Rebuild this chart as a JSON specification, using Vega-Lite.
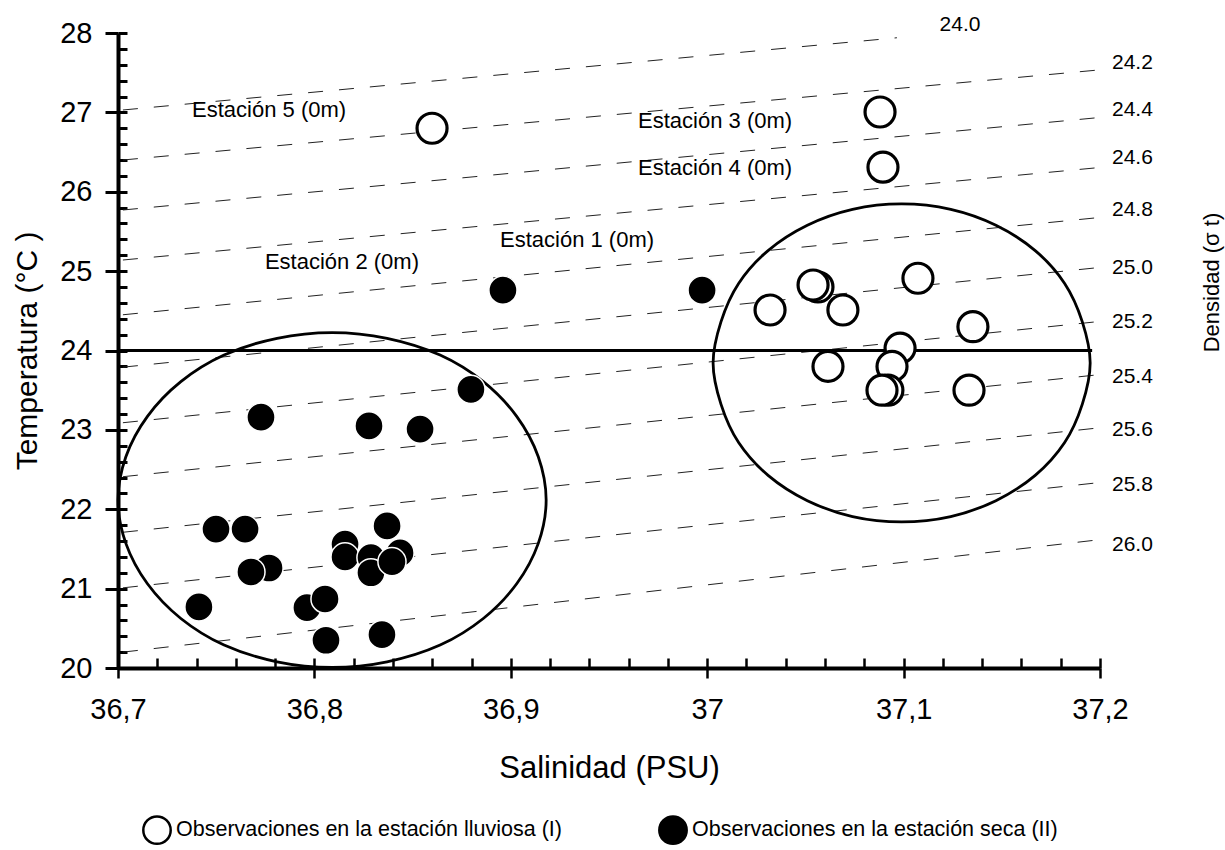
{
  "$schema": "https://vega.github.io/schema/vega-lite/v6.json",
  "width": 982,
  "height": 635,
  "autosize": {"type": "none"},
  "padding": {"left": 118, "top": 33, "right": 125, "bottom": 182},
  "background": "white",
  "config": {"font": "Liberation Sans", "view": {"stroke": null}, "axis": {"grid": false}},
  "datasets": {
    "iso": [
      {"sigma": "24.0", "S": 36.7025, "T": 27.03}, {"sigma": "24.0", "S": 37.0966, "T": 27.94},
      {"sigma": "24.2", "S": 36.7025, "T": 26.40}, {"sigma": "24.2", "S": 37.1975, "T": 27.53},
      {"sigma": "24.4", "S": 36.7025, "T": 25.77}, {"sigma": "24.4", "S": 37.1975, "T": 26.93},
      {"sigma": "24.6", "S": 36.7025, "T": 25.14}, {"sigma": "24.6", "S": 37.1975, "T": 26.30},
      {"sigma": "24.8", "S": 36.7025, "T": 24.45}, {"sigma": "24.8", "S": 37.1975, "T": 25.67},
      {"sigma": "25.0", "S": 36.7025, "T": 23.79}, {"sigma": "25.0", "S": 37.1975, "T": 25.04},
      {"sigma": "25.2", "S": 36.7025, "T": 23.09}, {"sigma": "25.2", "S": 37.1975, "T": 24.36},
      {"sigma": "25.4", "S": 36.7025, "T": 22.41}, {"sigma": "25.4", "S": 37.1975, "T": 23.69},
      {"sigma": "25.6", "S": 36.7025, "T": 21.71}, {"sigma": "25.6", "S": 37.1975, "T": 23.02},
      {"sigma": "25.8", "S": 36.7025, "T": 21.01}, {"sigma": "25.8", "S": 37.1975, "T": 22.33},
      {"sigma": "26.0", "S": 36.7025, "T": 20.20}, {"sigma": "26.0", "S": 37.1975, "T": 21.61}
    ],
    "isoLabels": [
      {"label": "24.0", "S": 37.1183, "T": 28.10},
      {"label": "24.2", "S": 37.2061, "T": 27.622},
      {"label": "24.4", "S": 37.2061, "T": 27.03},
      {"label": "24.6", "S": 37.2061, "T": 26.425},
      {"label": "24.8", "S": 37.2061, "T": 25.77},
      {"label": "25.0", "S": 37.2061, "T": 25.04},
      {"label": "25.2", "S": 37.2061, "T": 24.36},
      {"label": "25.4", "S": 37.2061, "T": 23.666},
      {"label": "25.6", "S": 37.2061, "T": 22.998},
      {"label": "25.8", "S": 37.2061, "T": 22.306},
      {"label": "26.0", "S": 37.2061, "T": 21.55}
    ],
    "ref": [{"S": 36.7, "S2": 37.196, "T": 24}],
    "ellipses": [
      {"id": "I", "i": 0, "S": 37.195, "T": 23.843}, {"id": "I", "i": 1, "S": 37.191, "T": 24.361},
      {"id": "I", "i": 2, "S": 37.182, "T": 24.845}, {"id": "I", "i": 3, "S": 37.167, "T": 25.259},
      {"id": "I", "i": 4, "S": 37.147, "T": 25.578}, {"id": "I", "i": 5, "S": 37.124, "T": 25.778},
      {"id": "I", "i": 6, "S": 37.099, "T": 25.846}, {"id": "I", "i": 7, "S": 37.074, "T": 25.778},
      {"id": "I", "i": 8, "S": 37.051, "T": 25.578}, {"id": "I", "i": 9, "S": 37.031, "T": 25.259},
      {"id": "I", "i": 10, "S": 37.016, "T": 24.845}, {"id": "I", "i": 11, "S": 37.007, "T": 24.361},
      {"id": "I", "i": 12, "S": 37.003, "T": 23.843}, {"id": "I", "i": 13, "S": 37.007, "T": 23.325},
      {"id": "I", "i": 14, "S": 37.016, "T": 22.841}, {"id": "I", "i": 15, "S": 37.031, "T": 22.427},
      {"id": "I", "i": 16, "S": 37.051, "T": 22.108}, {"id": "I", "i": 17, "S": 37.074, "T": 21.908},
      {"id": "I", "i": 18, "S": 37.099, "T": 21.840}, {"id": "I", "i": 19, "S": 37.124, "T": 21.908},
      {"id": "I", "i": 20, "S": 37.147, "T": 22.108}, {"id": "I", "i": 21, "S": 37.167, "T": 22.427},
      {"id": "I", "i": 22, "S": 37.182, "T": 22.841}, {"id": "I", "i": 23, "S": 37.191, "T": 23.325},
      {"id": "II", "i": 0, "S": 36.918, "T": 22.116}, {"id": "II", "i": 1, "S": 36.914, "T": 22.662},
      {"id": "II", "i": 2, "S": 36.903, "T": 23.171}, {"id": "II", "i": 3, "S": 36.886, "T": 23.608},
      {"id": "II", "i": 4, "S": 36.864, "T": 23.943}, {"id": "II", "i": 5, "S": 36.837, "T": 24.154},
      {"id": "II", "i": 6, "S": 36.809, "T": 24.226}, {"id": "II", "i": 7, "S": 36.781, "T": 24.154},
      {"id": "II", "i": 8, "S": 36.754, "T": 23.943}, {"id": "II", "i": 9, "S": 36.732, "T": 23.608},
      {"id": "II", "i": 10, "S": 36.715, "T": 23.171}, {"id": "II", "i": 11, "S": 36.704, "T": 22.662},
      {"id": "II", "i": 12, "S": 36.700, "T": 22.116}, {"id": "II", "i": 13, "S": 36.704, "T": 21.570},
      {"id": "II", "i": 14, "S": 36.715, "T": 21.061}, {"id": "II", "i": 15, "S": 36.732, "T": 20.624},
      {"id": "II", "i": 16, "S": 36.754, "T": 20.289}, {"id": "II", "i": 17, "S": 36.781, "T": 20.078},
      {"id": "II", "i": 18, "S": 36.809, "T": 20.006}, {"id": "II", "i": 19, "S": 36.837, "T": 20.078},
      {"id": "II", "i": 20, "S": 36.864, "T": 20.289}, {"id": "II", "i": 21, "S": 36.886, "T": 20.624},
      {"id": "II", "i": 22, "S": 36.903, "T": 21.061}, {"id": "II", "i": 23, "S": 36.914, "T": 21.570}
    ],
    "stations": [
      {"texto": "Estación 5 (0m)", "S": 36.7377, "T": 27.03},
      {"texto": "Estación 3 (0m)", "S": 36.9648, "T": 26.891},
      {"texto": "Estación 4 (0m)", "S": 36.9648, "T": 26.299},
      {"texto": "Estación 1 (0m)", "S": 36.8945, "T": 25.392},
      {"texto": "Estación 2 (0m)", "S": 36.7748, "T": 25.115}
    ],
    "obs": [
      {"grupo": "lluviosa", "S": 36.8599, "T": 26.80},
      {"grupo": "lluviosa", "S": 37.088, "T": 27.005},
      {"grupo": "lluviosa", "S": 37.0895, "T": 26.31},
      {"grupo": "lluviosa", "S": 37.032, "T": 24.51},
      {"grupo": "lluviosa", "S": 37.0564, "T": 24.80},
      {"grupo": "lluviosa", "S": 37.0539, "T": 24.825},
      {"grupo": "lluviosa", "S": 37.0691, "T": 24.51},
      {"grupo": "lluviosa", "S": 37.1073, "T": 24.91},
      {"grupo": "lluviosa", "S": 37.1353, "T": 24.30},
      {"grupo": "lluviosa", "S": 37.0982, "T": 24.03},
      {"grupo": "lluviosa", "S": 37.0615, "T": 23.80},
      {"grupo": "lluviosa", "S": 37.0941, "T": 23.80},
      {"grupo": "lluviosa", "S": 37.092, "T": 23.50},
      {"grupo": "lluviosa", "S": 37.089, "T": 23.50},
      {"grupo": "lluviosa", "S": 37.1333, "T": 23.50},
      {"grupo": "seca", "S": 36.896, "T": 24.76},
      {"grupo": "seca", "S": 36.9974, "T": 24.76},
      {"grupo": "seca", "S": 36.7728, "T": 23.16},
      {"grupo": "seca", "S": 36.8278, "T": 23.05},
      {"grupo": "seca", "S": 36.8538, "T": 23.01},
      {"grupo": "seca", "S": 36.8797, "T": 23.51},
      {"grupo": "seca", "S": 36.7499, "T": 21.75},
      {"grupo": "seca", "S": 36.7647, "T": 21.75},
      {"grupo": "seca", "S": 36.7769, "T": 21.26},
      {"grupo": "seca", "S": 36.7677, "T": 21.21},
      {"grupo": "seca", "S": 36.7412, "T": 20.77},
      {"grupo": "seca", "S": 36.7962, "T": 20.76},
      {"grupo": "seca", "S": 36.8054, "T": 20.87},
      {"grupo": "seca", "S": 36.8059, "T": 20.35},
      {"grupo": "seca", "S": 36.8344, "T": 20.42},
      {"grupo": "seca", "S": 36.8156, "T": 21.56},
      {"grupo": "seca", "S": 36.8156, "T": 21.40},
      {"grupo": "seca", "S": 36.837, "T": 21.79},
      {"grupo": "seca", "S": 36.8436, "T": 21.45},
      {"grupo": "seca", "S": 36.8288, "T": 21.39},
      {"grupo": "seca", "S": 36.8288, "T": 21.20},
      {"grupo": "seca", "S": 36.8395, "T": 21.34}
    ]
  },
  "layer": [
    {
      "data": {"name": "iso"},
      "mark": {"type": "line", "strokeDash": [15, 16], "strokeWidth": 1, "color": "#222222"},
      "encoding": {
        "x": {
          "field": "S", "type": "quantitative",
          "scale": {"domain": [36.7, 37.2], "nice": false, "zero": false},
          "axis": {
            "orient": "bottom", "title": "Salinidad (PSU)",
            "values": [36.7, 36.8, 36.9, 37.0, 37.1, 37.2],
            "labelExpr": "replace(format(datum.value, '~g'), '.', ',')",
            "domainWidth": 4, "domainColor": "black", "tickColor": "black", "tickWidth": 2.5, "tickSize": 10,
            "labelFontSize": 29, "labelColor": "black", "labelPadding": 17, "labelFlush": false, "labelOverlap": false,
            "titleFontSize": 31, "titleFontWeight": "normal", "titleColor": "black",
            "titleBaseline": "alphabetic", "titleY": 109
          }
        },
        "y": {
          "field": "T", "type": "quantitative",
          "scale": {"domain": [20, 28], "nice": false, "zero": false},
          "axis": {
            "orient": "left", "title": "Temperatura (°C )",
            "values": [20, 21, 22, 23, 24, 25, 26, 27, 28],
            "domainWidth": 4, "domainColor": "black", "tickColor": "black", "tickWidth": 3, "tickSize": 13,
            "labelFontSize": 29, "labelColor": "black", "labelPadding": 13, "labelFlush": false, "labelOverlap": false,
            "titleFontSize": 30, "titleFontWeight": "normal", "titleColor": "black",
            "titleBaseline": "alphabetic", "titleAngle": 270, "titleX": -82, "titleY": 317.5
          }
        },
        "detail": {"field": "sigma", "type": "nominal"}
      }
    },
    {
      "data": {"name": "ref"},
      "mark": {"type": "rule", "strokeWidth": 3, "color": "black"},
      "encoding": {
        "x": {
          "field": "S", "type": "quantitative",
          "axis": {
            "orient": "bottom", "title": null, "domain": false, "labels": false,
            "tickSize": -10, "tickWidth": 2.5, "tickColor": "black",
            "values": [36.7, 36.72, 36.74, 36.76, 36.78, 36.8, 36.82, 36.84, 36.86, 36.88, 36.9, 36.92, 36.94, 36.96, 36.98, 37, 37.02, 37.04, 37.06, 37.08, 37.1, 37.12, 37.14, 37.16, 37.18, 37.2]
          }
        },
        "x2": {"field": "S2"},
        "y": {
          "field": "T", "type": "quantitative",
          "axis": {
            "orient": "left", "title": null, "domain": false, "labels": false,
            "tickSize": -9, "tickWidth": 3, "tickColor": "black",
            "values": [20, 20.2, 20.4, 20.6, 20.8, 21, 21.2, 21.4, 21.6, 21.8, 22, 22.2, 22.4, 22.6, 22.8, 23, 23.2, 23.4, 23.6, 23.8, 24, 24.2, 24.4, 24.6, 24.8, 25, 25.2, 25.4, 25.6, 25.8, 26, 26.2, 26.4, 26.6, 26.8, 27, 27.2, 27.4, 27.6, 27.8, 28]
          }
        }
      }
    },
    {
      "data": {"name": "ellipses"},
      "mark": {"type": "line", "interpolate": "cardinal-closed", "strokeWidth": 2.8, "color": "black"},
      "encoding": {
        "x": {"field": "S", "type": "quantitative", "axis": null},
        "y": {
          "field": "T", "type": "quantitative",
          "axis": {
            "orient": "right", "title": "Densidad (σ t)", "domain": false, "ticks": false, "labels": false,
            "titleFontSize": 22, "titleFontWeight": "normal", "titleColor": "black",
            "titleAngle": 270, "titleBaseline": "alphabetic", "titleX": 118, "titleY": 249
          }
        },
        "detail": {"field": "id", "type": "nominal"},
        "order": {"field": "i", "type": "quantitative"}
      }
    },
    {
      "data": {"name": "stations"},
      "mark": {"type": "text", "align": "left", "baseline": "middle", "fontSize": 22, "color": "black"},
      "encoding": {
        "x": {"field": "S", "type": "quantitative", "axis": null},
        "y": {"field": "T", "type": "quantitative", "axis": null},
        "text": {"field": "texto"}
      }
    },
    {
      "data": {"name": "isoLabels"},
      "mark": {"type": "text", "align": "left", "baseline": "middle", "fontSize": 21, "color": "black"},
      "encoding": {
        "x": {"field": "S", "type": "quantitative", "axis": null},
        "y": {"field": "T", "type": "quantitative", "axis": null},
        "text": {"field": "label"}
      }
    },
    {
      "data": {"name": "obs"},
      "transform": [{"filter": "datum.grupo == 'lluviosa'"}],
      "mark": {"type": "point", "shape": "circle", "filled": true, "size": 900, "stroke": "black", "strokeWidth": 3.2, "opacity": 1},
      "encoding": {
        "x": {"field": "S", "type": "quantitative", "axis": null},
        "y": {"field": "T", "type": "quantitative", "axis": null},
        "fill": {
          "field": "grupo", "type": "nominal",
          "scale": {"domain": ["lluviosa", "seca"], "range": ["white", "black"]},
          "legend": {
            "title": null, "orient": "none", "legendX": 24, "legendY": 782,
            "direction": "horizontal", "columns": 2, "columnPadding": 92,
            "symbolType": "circle", "symbolSize": 750, "symbolStrokeColor": "black", "symbolStrokeWidth": 2.5,
            "labelFontSize": 21.5, "labelColor": "black", "labelOffset": 4, "labelLimit": 700,
            "labelExpr": "datum.label == 'lluviosa' ? 'Observaciones en la estación lluviosa (I)' : 'Observaciones en la estación seca (II)'"
          }
        }
      }
    },
    {
      "data": {"name": "obs"},
      "transform": [{"filter": "datum.grupo == 'seca'"}],
      "mark": {"type": "point", "shape": "circle", "filled": true, "size": 790, "stroke": "white", "strokeWidth": 1.5, "opacity": 1},
      "encoding": {
        "x": {"field": "S", "type": "quantitative", "axis": null},
        "y": {"field": "T", "type": "quantitative", "axis": null},
        "fill": {
          "field": "grupo", "type": "nominal",
          "scale": {"domain": ["lluviosa", "seca"], "range": ["white", "black"]},
          "legend": {
            "title": null, "orient": "none", "legendX": 24, "legendY": 782,
            "direction": "horizontal", "columns": 2, "columnPadding": 92,
            "symbolType": "circle", "symbolSize": 750, "symbolStrokeColor": "black", "symbolStrokeWidth": 2.5,
            "labelFontSize": 21.5, "labelColor": "black", "labelOffset": 4, "labelLimit": 700,
            "labelExpr": "datum.label == 'lluviosa' ? 'Observaciones en la estación lluviosa (I)' : 'Observaciones en la estación seca (II)'"
          }
        }
      }
    }
  ],
  "resolve": {"axis": {"x": "independent", "y": "independent"}}
}
